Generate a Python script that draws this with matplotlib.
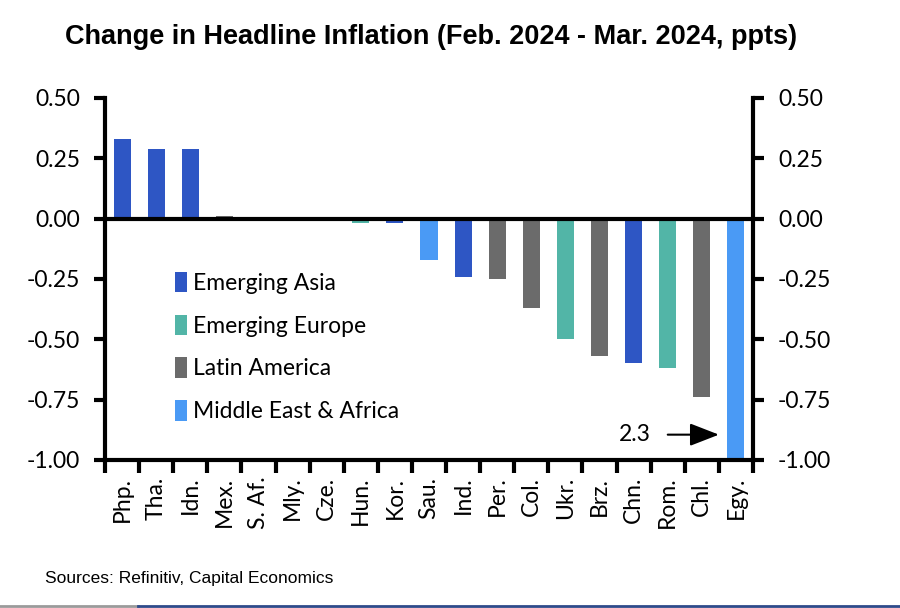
import matplotlib
matplotlib.use("Agg")
import matplotlib.pyplot as plt
from matplotlib.patches import Patch
from matplotlib.lines import Line2D
import numpy as np

categories = ["Php.", "Tha.", "Idn.", "Mex.", "S. Af.", "Mly.", "Cze.", "Hun.", "Kor.", "Sau.",
              "Ind.", "Per.", "Col.", "Ukr.", "Brz.", "Chn.", "Rom.", "Chl.", "Egy."]
values = [0.33, 0.29, 0.29, 0.01, 0.0, 0.0, 0.0, -0.02, -0.02, -0.17,
          -0.24, -0.25, -0.37, -0.50, -0.57, -0.60, -0.62, -0.74, -2.3]
regions = ["Asia", "Asia", "Asia", "Latam", "MEA", "Asia", "Europe", "Europe", "Asia", "MEA",
           "Asia", "Latam", "Latam", "Europe", "Latam", "Asia", "Europe", "Latam", "MEA"]
region_names = {"Asia": "Emerging Asia", "Europe": "Emerging Europe",
                "Latam": "Latin America", "MEA": "Middle East & Africa"}
region_colors = {"Asia": "#2E56C4", "Europe": "#52B5A7", "Latam": "#6B6B6B", "MEA": "#4A9AF5"}

font = "Lato"

fig = plt.figure(figsize=(9, 6.08), dpi=100)
ax = fig.add_axes([105/900, 1-460/608, (753-105)/900, (460-98)/608])

x = np.arange(len(categories))
colors = [region_colors[r] for r in regions]
ax.bar(x, values, width=0.5, color=colors, zorder=2)
ax.axhline(0, color="black", lw=3, zorder=3)

ax.set_xlim(-0.5, len(categories) - 0.5)
ax.set_ylim(-1.0, 0.5)
yt = [0.5, 0.25, 0.0, -0.25, -0.5, -0.75, -1.0]
ax.set_yticks(yt)
ax.set_yticklabels([f"{v:.2f}" for v in yt], fontfamily=font, fontsize=16.5)
ax.tick_params(axis="y", which="major", direction="out", length=8, width=3,
               left=True, right=True, labelleft=True, labelright=True, pad=10)

ax.set_xticks(x)
ax.set_xticklabels(categories, rotation=90, fontfamily=font, fontsize=16.5)
ax.tick_params(axis="x", which="major", length=0, pad=12)
ax.set_xticks(np.arange(-0.5, len(categories), 1), minor=True)
ax.tick_params(axis="x", which="minor", direction="out", length=9, width=3)

for s in ax.spines.values():
    s.set_linewidth(3)
ax.spines["top"].set_visible(False)

handles = [Patch(facecolor=region_colors[k], label=region_names[k]) for k in ["Asia", "Europe", "Latam", "MEA"]]
leg = ax.legend(handles=handles, loc="upper left", bbox_to_anchor=(0.094, 0.545), frameon=False,
                prop={"family": font, "size": 16.5}, handlelength=0.5, handleheight=1.0,
                handletextpad=0.3, labelspacing=0.9, borderaxespad=0)

ax.annotate("", xy=(17.5, -0.895), xytext=(16.0, -0.895),
            arrowprops=dict(arrowstyle="-|>,head_length=0.9,head_width=0.35", color="black",
                            lw=1.5, shrinkA=0, shrinkB=0, mutation_scale=20))
ax.text(15.5, -0.895, "2.3", ha="right", va="center", fontfamily=font, fontsize=16.5)

fig.text(0.479, 1-37/608, "Change in Headline Inflation (Feb. 2024 - Mar. 2024, ppts)",
         ha="center", va="center", fontsize=19.5, fontweight="bold",
         fontfamily="Liberation Sans")
fig.text(45/900, 1-578/608, "Sources: Refinitiv, Capital Economics", ha="left", va="center",
         fontsize=12.5, fontfamily="Liberation Sans")

fig.add_artist(Line2D([0, 138/900], [1-606/608]*2, color="#9A9A9A", lw=2))
fig.add_artist(Line2D([138/900, 1], [1-606/608]*2, color="#2E4A8A", lw=2))

fig.savefig("out.png", dpi=100)
